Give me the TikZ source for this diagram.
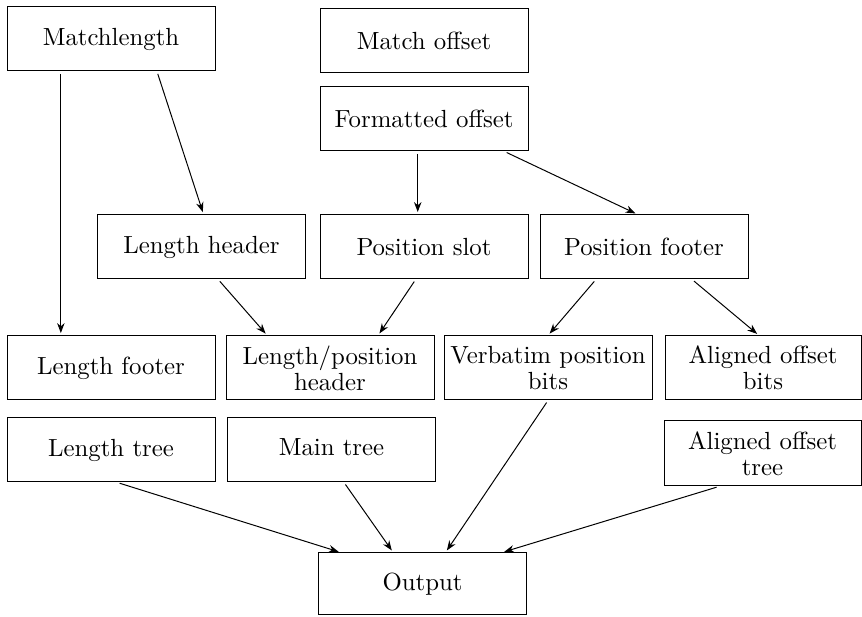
\documentclass[tikz,border=0pt]{standalone}
\usetikzlibrary{arrows.meta,calc}
\newcommand{\pxu}{0.4032pt}
\begin{document}
\begin{tikzpicture}[x=\pxu, y=-\pxu, >={Stealth[length=4pt,width=3pt]},
        block/.style={draw, line width=0.4pt, minimum width=208*\pxu, minimum height=64*\pxu,
            inner sep=0pt, align=center, font=\fontsize{10}{10.5}\selectfont},
        flow/.style={->, line width=0.4pt, shorten <=1pt, shorten >=1pt}]
        \useasboundingbox (0,0) rectangle (862,617);

        % Inputs
        \node[block] (ml) at (111,39) {Matchlength};
        \node[block] (mo) at (424,41) {Match offset};
        \node[block] (fo) at (424,119) {Formatted offset};

        % Headers and slots
        \node[block] (lh) at (201.5,247) {Length header};
        \node[block] (ps) at (424,247) {Position slot};
        \node[block] (pf) at (644,247) {Position footer};

        % Bits
        \node[block] (lf) at (111,368) {Length footer};
        \node[block] (lph) at (330,368) {Length/position\\header};
        \node[block] (vpb) at (548,368) {Verbatim position\\bits};
        \node[block, minimum width=196*\pxu] (aob) at (763,368) {Aligned offset\\bits};

        % Trees
        \node[block] (lt) at (111,450) {Length tree};
        \node[block] (mt) at (331.5,450) {\raisebox{2pt}{Main tree}};
        \node[block, minimum width=197*\pxu, minimum height=65*\pxu] (aot) at (762.5,453.5) {Aligned offset\\tree};

        % Result
        \node[block, minimum height=62*\pxu] (out) at (422.5,584) {Output};

        % Connectors
        \draw[flow] ($(ml.south west)!0.26!(ml.south east)$) -- ($(lf.north west)!0.26!(lf.north east)$);
        \draw[flow] ($(ml.south west)!0.72!(ml.south east)$) -- ($(lh.north west)!0.51!(lh.north east)$);
        \draw[flow] ($(fo.south west)!0.47!(fo.south east)$) -- ($(ps.north west)!0.47!(ps.north east)$);
        \draw[flow] ($(fo.south west)!0.885!(fo.south east)$) -- ($(pf.north west)!0.47!(pf.north east)$);
        \draw[flow] ($(lh.south west)!0.58!(lh.south east)$) -- ($(lph.north west)!0.2!(lph.north east)$);
        \draw[flow] ($(ps.south west)!0.46!(ps.south east)$) -- ($(lph.north west)!0.73!(lph.north east)$);
        \draw[flow] ($(pf.south west)!0.27!(pf.south east)$) -- ($(vpb.north west)!0.5!(vpb.north east)$);
        \draw[flow] ($(pf.south west)!0.73!(pf.south east)$) -- ($(aob.north west)!0.48!(aob.north east)$);
        \draw[flow] ($(lt.south west)!0.53!(lt.south east)$) -- ($(out.north west)!0.11!(out.north east)$);
        \draw[flow] ($(mt.south west)!0.56!(mt.south east)$) -- ($(out.north west)!0.36!(out.north east)$);
        \draw[flow] ($(vpb.south west)!0.5!(vpb.south east)$) -- ($(out.north west)!0.61!(out.north east)$);
        \draw[flow] ($(aot.south west)!0.28!(aot.south east)$) -- ($(out.north west)!0.88!(out.north east)$);
    \end{tikzpicture}
\end{document}
